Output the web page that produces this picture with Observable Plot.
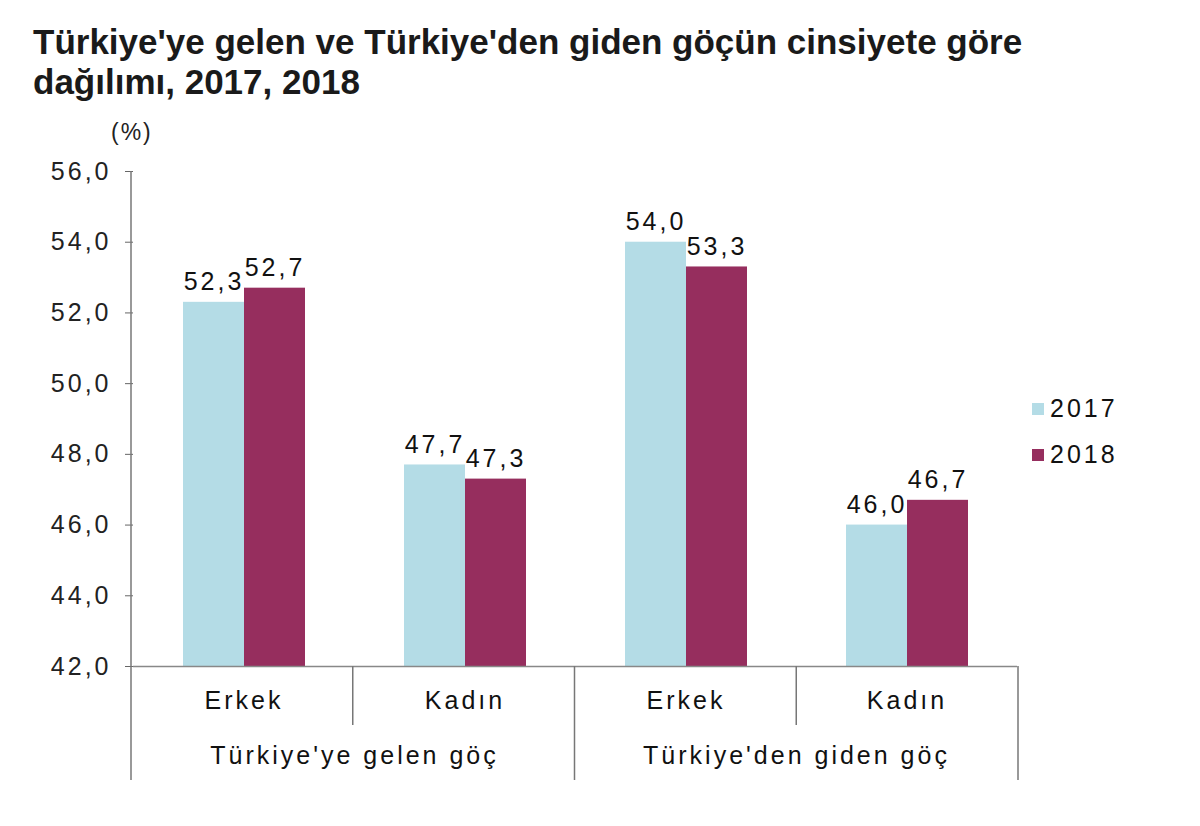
<!DOCTYPE html>
<html>
<head>
<meta charset="utf-8">
<script src="https://cdn.jsdelivr.net/npm/d3@7"></script>
<script src="https://cdn.jsdelivr.net/npm/@observablehq/plot@0.6"></script>
<style>
  html, body { margin: 0; padding: 0; background: #fff; }
  body { width: 1200px; height: 826px; position: relative; overflow: hidden; font-family: "Liberation Sans", Arial, sans-serif; }
  #title { position: absolute; left: 33px; top: 22px; font-weight: bold; font-size: 35px; line-height: 40px; color: #1a1a1a; white-space: nowrap; z-index: 2; }
  #unit { position: absolute; left: 111px; top: 119px; font-size: 23px; color: #222; letter-spacing: 2px; z-index: 2; }
  #chart { position: absolute; left: 0; top: 110px; z-index: 1; }
  #chart svg text { letter-spacing: 3px; }
  .legend { position: absolute; left: 1032px; font-size: 25px; color: #111; display: flex; align-items: center; letter-spacing: 3px; z-index: 2; }
  .legend span.sw { display: inline-block; width: 12px; height: 12px; margin-right: 6px; }
</style>
</head>
<body>
<div id="title">Türkiye'ye gelen ve Türkiye'den giden göçün cinsiyete göre<br>dağılımı, 2017, 2018</div>
<div id="unit">(%)</div>
<div id="chart"></div>
<div id="legend"></div>
<script>
// ---- data ----
const groups = ["Türkiye'ye gelen göç", "Türkiye'den giden göç"];
const sexes = ["Erkek", "Kadın"];
const years = ["2017", "2018"];
const values2017 = [52.3, 47.7, 54.0, 46.0];
const values2018 = [52.7, 47.3, 53.3, 46.7];
const yTicks = [42, 44, 46, 48, 50, 52, 54, 56];
const colors = ["#b4dce6", "#962e5e"];

// build table
const cats = [];
groups.forEach((g, gi) => sexes.forEach((s, si) => cats.push({key: gi + "|" + s, group: g, sex: s})));
const rows = [];
cats.forEach((c, i) => {
  rows.push({cat: c.key, year: years[0], value: values2017[i]});
  rows.push({cat: c.key, year: years[1], value: values2018[i]});
});
const groupRows = groups.map((g, gi) => ({group: g, cat: gi + "|" + sexes[1]}));

const fmt = v => v.toFixed(1).replace(".", ",");

const W = 1200, H = 716;
const mL = 131, mR = 182, mT = 61, mB = 160;

const chart = Plot.plot({
  width: W, height: H,
  marginLeft: mL, marginRight: mR, marginTop: mT, marginBottom: mB,
  style: {fontFamily: "'Liberation Sans', Arial, sans-serif", background: "#fff"},
  fx: {domain: cats.map(c => c.key), padding: 0, label: null},
  x: {domain: years, padding: 0, paddingOuter: 0.79, paddingInner: 0, axis: null},
  y: {domain: [42, 56], label: null},
  color: {domain: years, range: colors},
  marks: [
    Plot.axisY({ticks: yTicks, tickFormat: fmt, tickSize: 8, tickPadding: 14, fontSize: 25, stroke: "#666", color: "#222", label: null}),
    Plot.axisFx({anchor: "bottom", tickSize: 0, tickPadding: 25, fontSize: 25, tickFormat: k => k.split("|")[1], color: "#111", label: null}),
    Plot.barY(rows, {fx: "cat", x: "year", y1: 42, y2: "value", fill: "year"}),
    Plot.text(rows, {fx: "cat", x: "year", y: "value", text: d => fmt(d.value), dy: -12, lineAnchor: "bottom", fontSize: 25, fill: "#111"}),
    Plot.text(groupRows, {fx: "cat", text: "group", frameAnchor: "bottom-left", dy: 97, textAnchor: "middle", fontSize: 25, fill: "#111"}),
    Plot.ruleY([42], {stroke: "#888", strokeWidth: 1.5})
  ]
});
document.getElementById("chart").appendChild(chart);

// divider lines of the category table below the axis
const svg = d3.select(chart);
const step = (W - mL - mR) / cats.length;
const yAxis = H - mB;
const lines = svg.append("g").attr("stroke", "#777").attr("stroke-width", 1.5);
lines.append("line").attr("x1", mL).attr("x2", mL).attr("y1", mT).attr("y2", yAxis + 114);
for (let i = 1; i <= cats.length; i++) {
  const xx = mL + i * step;
  const isGroupEdge = (i % sexes.length === 0);
  lines.append("line").attr("x1", xx).attr("x2", xx).attr("y1", yAxis).attr("y2", yAxis + (isGroupEdge ? 114 : 59));
}

// legend
const leg = document.getElementById("legend");
years.forEach((y, i) => {
  const d = document.createElement("div");
  d.className = "legend";
  d.style.top = (394 + i * 46) + "px";
  d.innerHTML = `<span class="sw" style="background:${colors[i]}"></span>${y}`;
  leg.appendChild(d);
});
</script>
</body>
</html>
